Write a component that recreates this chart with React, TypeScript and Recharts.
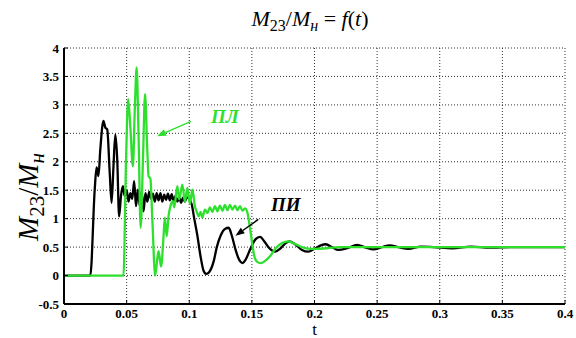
import React from 'react';
import {
  LineChart,
  Line,
  XAxis,
  YAxis,
  CartesianGrid,
  ReferenceLine,
  ReferenceDot,
} from 'recharts';

// ПИ curve (black)
const PI_T = [
  0, 0.021, 0.0245, 0.026, 0.0275, 0.029, 0.0315, 0.033, 0.0345, 0.0365, 0.038, 0.0395, 0.041, 0.0425,
  0.044, 0.0455, 0.047, 0.0485, 0.05, 0.0515, 0.053, 0.0545, 0.056, 0.0575, 0.059, 0.0605, 0.062, 0.0635,
  0.065, 0.0665, 0.068, 0.0695, 0.071, 0.0725, 0.074, 0.0755, 0.077, 0.0785, 0.08, 0.0815, 0.083, 0.0845,
  0.086, 0.0875, 0.089, 0.0905, 0.092, 0.0935, 0.095, 0.0965, 0.098, 0.1, 0.102, 0.104, 0.1065, 0.109,
  0.1115, 0.1135, 0.115, 0.117, 0.1195, 0.122, 0.125, 0.1285, 0.1315, 0.134, 0.137, 0.14, 0.1425, 0.145,
  0.149, 0.153, 0.1565, 0.16, 0.164, 0.1685, 0.173, 0.177, 0.18, 0.184, 0.19, 0.195, 0.2, 0.205, 0.209,
  0.214, 0.219, 0.226, 0.234, 0.241, 0.247, 0.254, 0.26, 0.267, 0.275, 0.285, 0.295, 0.31, 0.325, 0.34,
  0.36, 0.38, 0.4,
];
const PI_V = [
  0, 0, 1.5, 1.9, 1.75, 2.22, 2.72, 2.6, 2.57, 1.81, 1.28, 1.92, 2.48, 2.04,
  1.04, 1.4, 1.57, 1.4, 1.5, 1.3, 1.45, 1.35, 1.66, 1.22, 1.51, 1.22, 1.48, 1.13,
  1.45, 1.3, 1.47, 1.35, 1.44, 1.3, 1.45, 1.32, 1.45, 1.3, 1.42, 1.33, 1.44, 1.32,
  1.43, 1.3, 1.4, 1.3, 1.38, 1.28, 1.37, 1.3, 1.38, 1.34, 1.25, 1.0, 0.7, 0.34,
  0.08, 0.03, 0.04, 0.1, 0.25, 0.5, 0.7, 0.82, 0.84, 0.7, 0.45, 0.27, 0.22, 0.28,
  0.48, 0.64, 0.68, 0.6, 0.48, 0.42, 0.48, 0.57, 0.6, 0.56, 0.45, 0.42, 0.47, 0.53, 0.55,
  0.5, 0.45, 0.48, 0.54, 0.49, 0.46, 0.5, 0.53, 0.5, 0.47, 0.51, 0.5, 0.48, 0.51, 0.49,
  0.5, 0.5, 0.5,
];

// ПЛ curve (green)
const PL_T = [
  0, 0.0475, 0.0495, 0.0512, 0.053, 0.055, 0.0565, 0.058, 0.0595, 0.0612, 0.063, 0.0647, 0.0665, 0.0675,
  0.069, 0.0705, 0.0728, 0.0745, 0.0755, 0.0775, 0.0795, 0.0805, 0.082, 0.0835, 0.085, 0.087, 0.088,
  0.0905, 0.092, 0.0945, 0.0965, 0.0985, 0.1005, 0.1025, 0.1045, 0.106, 0.1075, 0.109, 0.1105, 0.1125,
  0.1145, 0.1165, 0.1185, 0.1205, 0.1225, 0.1245, 0.1265, 0.1285, 0.1305, 0.1325, 0.1345, 0.1365,
  0.1385, 0.1405, 0.1425, 0.1445, 0.1465, 0.149, 0.151, 0.1525, 0.155, 0.1575, 0.16, 0.1645, 0.169,
  0.174, 0.179, 0.185, 0.19, 0.196, 0.2, 0.21, 0.22, 0.24, 0.4,
];
const PL_V = [
  0, 0, 2.0, 3.1, 2.6, 1.92, 2.9, 3.66, 2.5, 0.84, 2.0, 3.19, 2.2, 1.75,
  1.7, 1.0, 0.0, 0.3, 0.43, 0.16, 0.7, 1.02, 0.69, 1.05, 1.22, 1.31, 1.2,
  1.57, 1.34, 1.6, 1.3, 1.54, 1.26, 1.51, 1.22, 1.12, 1.04, 1.12, 1.02, 1.16,
  1.1, 1.2, 1.12, 1.22, 1.13, 1.23, 1.14, 1.24, 1.15, 1.24, 1.16, 1.23,
  1.15, 1.22, 1.14, 1.18, 1.1, 0.76, 0.45, 0.3, 0.23, 0.22, 0.25, 0.34, 0.48,
  0.57, 0.6, 0.55, 0.5, 0.47, 0.47, 0.48, 0.5, 0.5, 0.5,
];

const X_TICKS = [0, 0.05, 0.1, 0.15, 0.2, 0.25, 0.3, 0.35, 0.4];
const Y_TICKS = [-0.5, 0, 0.5, 1, 1.5, 2, 2.5, 3, 3.5, 4];

const piData = PI_T.map((t, i) => ({ t, v: PI_V[i] }));
const plData = PL_T.map((t, i) => ({ t, v: PL_V[i] }));

const SERIF = "'Liberation Serif', 'Times New Roman', serif";
const GREEN = '#2ee02e';

const XTick = ({ x, y, payload }: any) => (
  <g>
    <line x1={x} y1={304} x2={x} y2={300} stroke="#000" strokeWidth={1} />
    <text
      x={x}
      y={y - 1}
      dy="0.7em"
      textAnchor="middle"
      style={{ fontFamily: SERIF, fontWeight: 'bold', fontSize: 13 }}
      fill="#000"
    >
      {payload.value}
    </text>
  </g>
);

const YTick = ({ x, y, payload }: any) => (
  <g>
    <line x1={64} y1={y} x2={68} y2={y} stroke="#000" strokeWidth={1} />
    <text
      x={x}
      y={y}
      dy="0.35em"
      textAnchor="end"
      style={{ fontFamily: SERIF, fontWeight: 'bold', fontSize: 13 }}
      fill="#000"
    >
      {payload.value}
    </text>
  </g>
);

const Arrow = (color: string) => (p: any) => {
  const { x1, y1, x2, y2 } = p;
  const a = Math.atan2(y2 - y1, x2 - x1);
  const L = 9;
  const W = 3.5;
  const bx = x2 - L * Math.cos(a);
  const by = y2 - L * Math.sin(a);
  const px = -Math.sin(a) * W;
  const py = Math.cos(a) * W;
  return (
    <g>
      <line x1={x1} y1={y1} x2={bx} y2={by} stroke={color} strokeWidth={1.5} />
      <polygon points={`${x2},${y2} ${bx + px},${by + py} ${bx - px},${by - py}`} fill={color} />
    </g>
  );
};

const Tag = (text: string, color: string) => (p: any) => (
  <text
    x={p.cx}
    y={p.cy}
    dy="0.35em"
    textAnchor="middle"
    style={{ fontFamily: SERIF, fontWeight: 'bold', fontStyle: 'italic', fontSize: 19 }}
    fill={color}
  >
    {text}
  </text>
);

const YLabel = ({ viewBox }: any) => {
  const cx = viewBox.x + 38;
  const cy = 197;
  return (
    <text
      x={cx}
      y={cy}
      transform={`rotate(-90 ${cx} ${cy})`}
      textAnchor="middle"
      style={{ fontFamily: SERIF, fontSize: 29 }}
      fill="#000"
    >
      <tspan fontStyle="italic">M</tspan>
      <tspan fontSize={21} dy={6}>23</tspan>
      <tspan dy={-6}>/</tspan>
      <tspan fontStyle="italic">M</tspan>
      <tspan fontSize={21} fontStyle="italic" dy={6}>н</tspan>
    </text>
  );
};

const XLabel = ({ viewBox }: any) => (
  <text
    x={viewBox.x + viewBox.width / 2}
    y={335}
    textAnchor="middle"
    style={{ fontFamily: SERIF, fontSize: 17 }}
    fill="#000"
  >
    t
  </text>
);

export default function App() {
  return (
    <div style={{ position: 'absolute', left: 0, top: 0, width: 576, height: 338, background: '#fff' }}>
      <div
        style={{
          position: 'absolute',
          left: 0,
          width: 620,
          top: 6,
          textAlign: 'center',
          fontFamily: SERIF,
          fontSize: 22,
          color: '#000',
        }}
      >
        <i>M</i>
        <sub style={{ fontSize: 16 }}>23</sub>/<i>M</i>
        <sub style={{ fontSize: 16 }}>
          <i>н</i>
        </sub>{' '}
        = <i>f</i>(<i>t</i>)
      </div>
      <LineChart width={576} height={338} margin={{ top: 48, right: 11, left: 0, bottom: 0 }}>
        <CartesianGrid stroke="#333" strokeDasharray="1 2" strokeWidth={1} />
        <XAxis
          type="number"
          dataKey="t"
          domain={[0, 0.4]}
          ticks={X_TICKS}
          allowDataOverflow
          height={34}
          axisLine={{ stroke: '#000', strokeWidth: 2 }}
          tickLine={false}
          tickSize={4}
          tickMargin={2}
          tick={<XTick />}
          label={<XLabel />}
        />
        <YAxis
          type="number"
          dataKey="v"
          domain={[-0.5, 4]}
          ticks={Y_TICKS}
          allowDataOverflow
          width={64}
          axisLine={{ stroke: '#000', strokeWidth: 2 }}
          tickLine={false}
          tickSize={4}
          tickMargin={1}
          tick={<YTick />}
          label={<YLabel />}
        />
        <Line
          data={piData}
          dataKey="v"
          type="monotone"
          stroke="#000"
          strokeWidth={2.3}
          dot={false}
          isAnimationActive={false}
        />
        <Line
          data={plData}
          dataKey="v"
          type="monotone"
          stroke={GREEN}
          strokeWidth={2.3}
          dot={false}
          isAnimationActive={false}
        />
        <ReferenceLine
          segment={[
            { x: 0.1014, y: 2.71 },
            { x: 0.0743, y: 2.45 },
          ]}
          shape={Arrow(GREEN)}
        />
        <ReferenceLine
          segment={[
            { x: 0.1551, y: 0.986 },
            { x: 0.1369, y: 0.7 },
          ]}
          shape={Arrow('#000')}
        />
        <ReferenceDot x={0.1285} y={2.8} r={0} shape={Tag('ПЛ', GREEN)} />
        <ReferenceDot x={0.177} y={1.25} r={0} shape={Tag('ПИ', '#000')} />
      </LineChart>
    </div>
  );
}
